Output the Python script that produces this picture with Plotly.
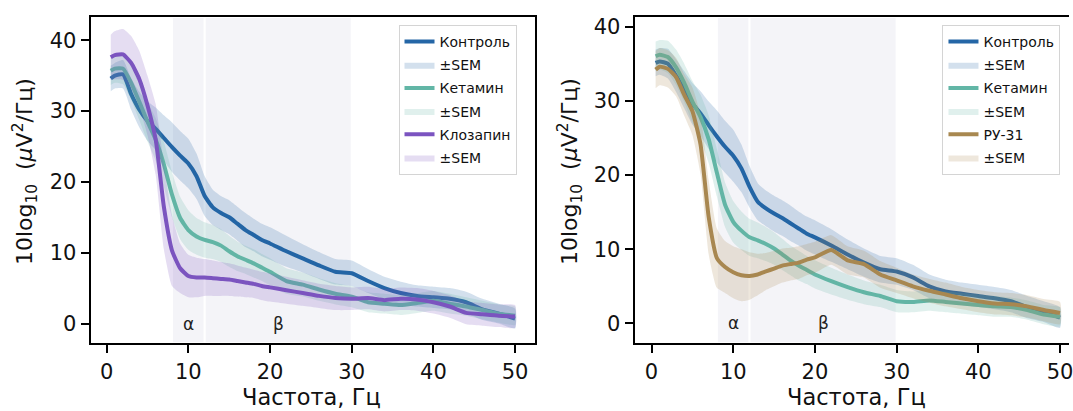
import plotly.graph_objects as go

# Frequency grid (Hz)
freq = [0.5, 1, 2, 3, 4, 5, 6, 7, 8, 9, 10, 11, 12, 13, 14, 15, 16, 17, 18, 19, 20,
        22, 24, 26, 28, 30, 32, 34, 36, 38, 40, 42, 44, 46, 48, 50]

# Left panel: Контроль / Кетамин / Клозапин (10log10 power, mean and SEM)
ctrl_a = [34.6, 35.0, 35.2, 32.4, 30.2, 28.6, 27.5, 26.2, 24.9, 23.7, 22.6, 20.8, 18.0, 16.4, 15.6,
          15.0, 14.1, 13.2, 12.5, 11.8, 11.3, 10.2, 9.2, 8.2, 7.3, 7.1, 6.0, 5.0, 4.3, 3.9, 3.7,
          3.5, 3.0, 2.0, 1.4, 0.7]
ctrl_a_sem = [1.8, 1.8, 2.0, 2.2, 2.5, 2.8, 3.0, 3.2, 3.5, 3.5, 3.5, 3.2, 2.8, 2.5, 2.4, 2.4, 2.4,
              2.4, 2.3, 2.3, 2.3, 2.2, 2.0, 1.9, 1.8, 1.8, 1.7, 1.6, 1.6, 1.5, 1.5, 1.5, 1.5, 1.5,
              1.4, 1.4]
ket_a = [35.7, 36.0, 36.0, 34.0, 31.3, 28.5, 26.0, 22.5, 18.2, 14.9, 13.2, 12.3, 11.8, 11.5, 11.0,
         10.2, 9.5, 9.0, 8.5, 7.9, 7.3, 6.0, 5.5, 4.8, 4.2, 3.8, 3.0, 2.8, 2.6, 2.9, 3.2, 2.8, 2.4,
         1.9, 1.4, 1.1]
ket_a_sem = [2.0, 2.0, 2.2, 2.4, 2.6, 2.8, 3.0, 3.2, 3.2, 3.0, 2.8, 2.6, 2.5, 2.4, 2.3, 2.2, 2.1,
             2.0, 2.0, 1.9, 1.9, 1.8, 1.7, 1.6, 1.5, 1.5, 1.4, 1.4, 1.4, 1.4, 1.4, 1.4, 1.3, 1.3,
             1.3, 1.3]
clz_a = [37.6, 37.9, 38.0, 36.8, 34.5, 30.8, 26.0, 16.5, 10.3, 7.8, 6.7, 6.5, 6.5, 6.4, 6.3, 6.2,
         6.0, 5.8, 5.6, 5.3, 5.1, 4.7, 4.3, 3.9, 3.6, 3.5, 3.6, 3.3, 3.5, 3.4, 3.0, 2.4, 1.5, 1.3,
         1.1, 1.0]
clz_a_sem = [3.2, 3.4, 3.6, 3.8, 4.0, 4.2, 5.0, 6.0, 5.0, 3.5, 3.0, 2.8, 2.6, 2.5, 2.4, 2.3, 2.2,
             2.1, 2.0, 2.0, 2.0, 1.9, 1.8, 1.7, 1.7, 1.6, 1.6, 1.6, 1.6, 1.6, 1.6, 1.6, 1.6, 1.6,
             1.6, 1.6]

# Right panel: Контроль / Кетамин / РУ-31
ctrl_b = [35.1, 35.3, 35.0, 33.4, 31.5, 29.6, 28.3, 26.7, 25.2, 23.8, 22.6, 20.9, 18.4, 16.4, 15.5,
          14.8, 14.2, 13.5, 12.8, 12.1, 11.6, 10.5, 9.3, 8.2, 7.3, 7.0, 6.2, 5.0, 4.3, 4.0, 3.7,
          3.4, 3.0, 2.2, 1.6, 0.8]
ctrl_b_sem = [1.8, 1.8, 2.0, 2.2, 2.5, 2.8, 3.0, 3.2, 3.5, 3.5, 3.5, 3.2, 2.8, 2.5, 2.4, 2.4, 2.4,
              2.4, 2.3, 2.3, 2.3, 2.2, 2.0, 1.9, 1.8, 1.8, 1.7, 1.6, 1.6, 1.5, 1.5, 1.5, 1.5, 1.5,
              1.4, 1.4]
ket_b = [36.0, 36.2, 35.9, 34.5, 32.4, 29.9, 27.8, 24.8, 20.3, 16.0, 13.7, 12.5, 11.6, 11.2, 10.7,
         10.1, 9.3, 8.5, 7.8, 7.2, 6.6, 5.7, 4.9, 4.2, 3.7, 3.0, 2.9, 3.1, 2.9, 2.7, 2.5, 2.3, 2.2,
         1.8, 1.2, 0.9]
ket_b_sem = [2.0, 2.0, 2.2, 2.4, 2.6, 2.8, 3.0, 3.2, 3.2, 3.0, 2.8, 2.6, 2.5, 2.4, 2.3, 2.2, 2.1,
             2.0, 2.0, 1.9, 1.9, 1.8, 1.7, 1.6, 1.5, 1.5, 1.4, 1.4, 1.4, 1.4, 1.4, 1.4, 1.3, 1.3,
             1.3, 1.3]
ru_b = [34.2, 34.6, 34.3, 33.2, 30.8, 28.6, 24.1, 14.3, 8.8, 7.6, 6.9, 6.5, 6.4, 6.6, 7.0, 7.4,
        7.8, 8.0, 8.2, 8.6, 8.9, 9.9, 8.5, 8.0, 6.6, 5.8, 5.0, 4.4, 3.9, 3.4, 3.0, 2.7, 2.6, 2.3,
        1.8, 1.4]
ru_b_sem = [2.5, 2.5, 2.5, 2.6, 2.8, 3.2, 4.0, 5.0, 4.0, 3.5, 3.5, 3.5, 3.2, 2.8, 2.5, 2.4, 2.3,
            2.2, 2.2, 2.1, 2.1, 2.0, 1.9, 1.8, 1.8, 1.7, 1.6, 1.6, 1.6, 1.5, 1.5, 1.5, 1.5, 1.5,
            1.5, 1.5]

# Frequency bands
bands = [(8, 12, "α", 10), (12, 30, "β", 21)]

C_CTRL = "#2466a6"
C_KET = "#62b6a6"
C_CLZ = "#7b54c0"
C_RU = "#a88850"


def rgba(hex_color, a):
    h = hex_color.lstrip("#")
    r, g, b = int(h[0:2], 16), int(h[2:4], 16), int(h[4:6], 16)
    return f"rgba({r},{g},{b},{a})"


fig = go.Figure()

groups = [
    ("x", "y", "legend", [("Контроль", ctrl_a, ctrl_a_sem, C_CTRL),
                          ("Кетамин", ket_a, ket_a_sem, C_KET),
                          ("Клозапин", clz_a, clz_a_sem, C_CLZ)]),
    ("x2", "y2", "legend2", [("Контроль", ctrl_b, ctrl_b_sem, C_CTRL),
                             ("Кетамин", ket_b, ket_b_sem, C_KET),
                             ("РУ-31", ru_b, ru_b_sem, C_RU)]),
]

gid = 0
for xa, ya, leg, series in groups:
    for name, mean, sem, color in series:
        gid += 1
        fig.add_trace(go.Scatter(
            x=freq, y=mean, mode="lines", name=name,
            line=dict(color=color, width=4, shape="spline", smoothing=0.5),
            xaxis=xa, yaxis=ya, legend=leg, legendgroup=f"g{gid}",
        ))
        gid += 1
        upper = [m + s for m, s in zip(mean, sem)]
        lower = [m - s for m, s in zip(mean, sem)]
        fig.add_trace(go.Scatter(
            x=freq + freq[::-1], y=upper + lower[::-1], mode="lines", name="±SEM",
            fill="toself", fillcolor=rgba(color, 0.2),
            line=dict(width=0, shape="spline", smoothing=0.5, color=rgba(color, 0.2)),
            xaxis=xa, yaxis=ya, legend=leg, legendgroup=f"g{gid}", hoverinfo="skip",
        ))

W, H = 1073, 411

shapes = []
annotations = []
for xref, yref in (("x", "y"), ("x2", "y2")):
    for x0, x1, label, xl in bands:
        shapes.append(dict(type="rect", xref=xref, yref=f"{yref} domain", x0=x0, x1=x1,
                           y0=0, y1=1, fillcolor="#f4f4f8",
                           line=dict(color="white", width=2), layer="below"))
        annotations.append(dict(x=xl, y=0, xref=xref, yref=yref, text=label, showarrow=False,
                                font=dict(size=17, color="#222"), xanchor="center",
                                yanchor="middle"))

tick_font = dict(family="DejaVu Sans", size=21, color="#111")
axis_common = dict(showgrid=False, zeroline=False, showline=True, linecolor="black",
                   linewidth=2, ticks="outside", ticklen=8, tickwidth=2, tickcolor="black",
                   tickfont=tick_font, ticklabeloverflow="allow")

ylabel = "10log<sub>10</sub>  (<i>μ</i>V<sup>2</sup>/Гц)"
for xp in (25, 572):
    annotations.append(dict(x=xp / W, y=(H - 170) / H, xref="paper", yref="paper",
                            text=ylabel, textangle=-90, showarrow=False,
                            font=dict(family="DejaVu Sans", size=22, color="#111"),
                            xanchor="center", yanchor="middle"))
for xp in (313, 860):
    annotations.append(dict(x=xp / W, y=(H - 397) / H, xref="paper", yref="paper",
                            text="Частота, Гц", showarrow=False,
                            font=dict(family="DejaVu Sans", size=22.5, color="#111"),
                            xanchor="center", yanchor="middle"))

ydom = [(H - 343) / H, (H - 15) / H]
legend_style = dict(font=dict(family="DejaVu Sans", size=14, color="#111"),
                    bgcolor="rgba(255,255,255,0.85)", bordercolor="#d4d4d4", borderwidth=1,
                    xanchor="left", yanchor="top", tracegroupgap=2,
                    xref="paper", yref="paper")

fig.update_layout(
    width=W, height=H, margin=dict(l=0, r=0, t=0, b=0),
    paper_bgcolor="white", plot_bgcolor="white",
    font=dict(family="DejaVu Sans"),
    xaxis=dict(domain=[91 / W, 537 / W], range=[-1.96, 52.44], tickvals=[0, 10, 20, 30, 40, 50],
               mirror=True, anchor="y", **axis_common),
    yaxis=dict(domain=ydom, range=[-2.8, 43.3], tickvals=[0, 10, 20, 30, 40],
               mirror=True, anchor="x", **axis_common),
    xaxis2=dict(domain=[637 / W, 1.0], range=[-2.07, 51.1], tickvals=[0, 10, 20, 30, 40, 50],
                mirror=True, anchor="y2", **axis_common),
    yaxis2=dict(domain=ydom, range=[-2.68, 41.3], tickvals=[0, 10, 20, 30, 40],
                mirror=False, anchor="x2", **axis_common),
    legend=dict(x=400 / W, y=(H - 23) / H, **legend_style),
    legend2=dict(x=946 / W, y=(H - 23) / H, **legend_style),
    shapes=shapes, annotations=annotations, showlegend=True,
)

fig.write_html("out.html")
